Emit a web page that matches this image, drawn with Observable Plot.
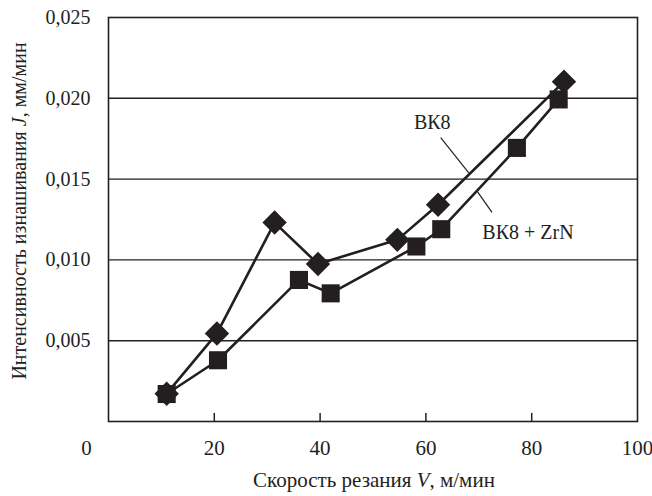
<!DOCTYPE html>
<html><head><meta charset="utf-8">
<script src="https://cdn.jsdelivr.net/npm/d3@7"></script>
<script src="https://cdn.jsdelivr.net/npm/@observablehq/plot@0.6"></script>
<style>
html,body{margin:0;padding:0;background:#fff;overflow:hidden}
</style>
</head><body><div id="chart"></div>
<script>
// ---- data ----
const speedBK8 = [11.0, 20.5, 31.4, 39.6, 54.6, 62.3, 86.1];
const wearBK8  = [0.00172, 0.00545, 0.01231, 0.00975, 0.01124, 0.01341, 0.02103];
const speedZrN = [11.0, 20.7, 36.0, 42.0, 58.2, 62.9, 77.2, 85.1];
const wearZrN  = [0.00170, 0.00379, 0.00876, 0.00793, 0.01083, 0.01190, 0.01693, 0.01993];
const xTicks = [20, 40, 60, 80, 100];
const xCorner = [0];
const xTickMarks = [20, 40, 60, 80];
const yTicks = [0.005, 0.010, 0.015, 0.020, 0.025];
const gridValues = [0.005, 0.010, 0.015, 0.020];
const seriesLabels = ["ВК8", "ВК8 + ZrN"];
const labelSpeed = [61.2, 79.3];
const labelWear = [0.01849, 0.01169];
const leaderSpeed1 = [62.8, 69.7], leaderWear1 = [0.01756, 0.01424];
const leaderSpeed2 = [68.1, 72.5], leaderWear2 = [0.01538, 0.01294];
const xTitle = ["Скорость резания ", "V", ", м/мин"];
const yTitle = ["Интенсивность изнашивания ", "J", ", мм/мин"];

const ink = "#231f20";
const font = "Liberation Serif";
const bk8 = speedBK8.map((x, i) => ({x, y: wearBK8[i]}));
const zrn = speedZrN.map((x, i) => ({x, y: wearZrN[i]}));
const labels = seriesLabels.map((t, i) => ({t, x: labelSpeed[i], y: labelWear[i]}));
const leaders = leaderSpeed1.map((x1, i) => ({x1, y1: leaderWear1[i], x2: leaderSpeed2[i], y2: leaderWear2[i]}));
const fmt = d => d3.format(".3f")(d).replace(".", ",");

const chart = Plot.plot({
  width: 652, height: 496,
  marginLeft: 108, marginRight: 15, marginTop: 17, marginBottom: 75,
  style: {fontFamily: font, fontSize: "20px", color: ink, background: "#fff"},
  x: {domain: [0, 100]},
  y: {domain: [0, 0.025]},
  marks: [
    Plot.ruleY(gridValues, {stroke: ink, strokeWidth: 1.4}),
    Plot.frame({stroke: ink, strokeWidth: 1.6}),
    Plot.ruleX(xTickMarks, {y1: 0, y2: 0.0005, stroke: ink, strokeWidth: 1.5}),
    Plot.axisY(yTicks, {tickSize: 0, tickPadding: 18, tickFormat: fmt, label: null, fontSize: 20}),
    Plot.axisX(xTicks, {tickSize: 0, tickPadding: 19, label: null, fontSize: 21}),
    Plot.axisX(xCorner, {tickSize: 0, tickPadding: 19, dx: -22, label: null, fontSize: 21}),
    Plot.link(leaders, {x1: "x1", y1: "y1", x2: "x2", y2: "y2", stroke: ink, strokeWidth: 1.2}),
    Plot.line(zrn, {x: "x", y: "y", stroke: ink, strokeWidth: 2.6}),
    Plot.line(bk8, {x: "x", y: "y", stroke: ink, strokeWidth: 2.6}),
    Plot.dot(zrn, {x: "x", y: "y", symbol: "square", r: 10.2, fill: ink, stroke: "none"}),
    Plot.dot(bk8, {x: "x", y: "y", symbol: "diamond2", r: 11, fill: ink, stroke: "none"}),
    Plot.text(labels, {x: "x", y: "y", text: "t", fontSize: 20, fill: ink})
  ]
});
document.getElementById("chart").appendChild(chart);

const svg = d3.select(chart);
function addTitle(parts, x, y, rotate, size) {
  const t = svg.append("text")
    .attr("transform", `translate(${x},${y})` + (rotate ? " rotate(-90)" : ""))
    .attr("text-anchor", "middle")
    .attr("dominant-baseline", "central")
    .attr("fill", ink)
    .attr("font-family", font)
    .attr("font-size", size);
  parts.forEach((p, i) => t.append("tspan").text(p).attr("font-style", i === 1 ? "italic" : "normal"));
}
addTitle(xTitle, 374, 480, false, 21);
addTitle(yTitle, 19, 211, true, 20);
</script>
</body></html>
